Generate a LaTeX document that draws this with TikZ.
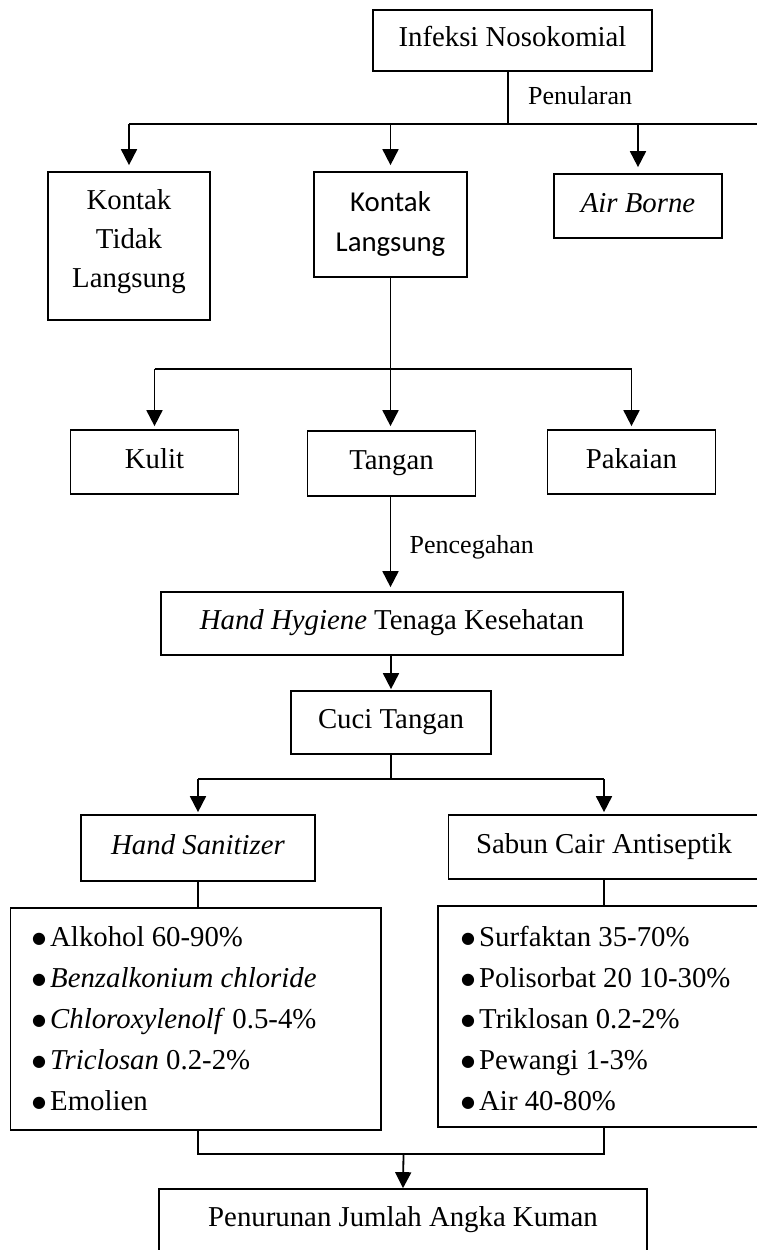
\documentclass[tikz,border=0pt]{standalone}
\usepackage{fontspec}
\setmainfont{Liberation Serif}
\newfontfamily\calibrifont{Carlito}
\newfontfamily\symbolfont{DejaVu Sans}
\usetikzlibrary{arrows.meta}
% list bullet in a fixed-width slot
\newcommand\dotmark{\makebox[18.7pt][l]{\hspace{0.5pt}\raisebox{3pt}{\symbolfont\fontsize{16}{16}\selectfont ●}}}

\begin{document}
\begin{tikzpicture}[x=1pt,y=-1pt,
  box/.style={draw, line width=1.7pt, inner sep=0pt, align=center,
    font=\fontsize{28.8}{39}\selectfont},
  one/.style={text height=19pt, text depth=6.5pt},
  txt/.style={inner sep=0pt, align=center, anchor=north},
  lbl/.style={inner sep=0pt, anchor=base west, font=\fontsize{26}{30}\selectfont},
  itemlist/.style={inner sep=0pt, anchor=north west, align=left,
    font=\fontsize{28.8}{41}\selectfont},
  conn/.style={line width=1.8pt},
  stem/.style={line width=1.2pt},
  arr/.style={line width=1.8pt, -{Triangle[length=16pt,width=16pt]}}
]
\useasboundingbox (0,0) rectangle (757,1250);
\clip (0,0) rectangle (757,1250);

% --- top: source and modes of transmission
\node[box, one, minimum width=279pt, minimum height=61pt] (inf) at (512.5,40.5) {Infeksi Nosokomial};
\node[box, minimum width=162pt, minimum height=148pt] (kt) at (129,246) {};
\node[txt, font=\fontsize{28.8}{39}\selectfont] (ktt) at (129,189.5) {Kontak\\Tidak\\Langsung};
\node[box, minimum width=153pt, minimum height=105pt] (kl) at (390.5,224.5) {};
\node[txt, font=\calibrifont\fontsize{28.8}{40}\selectfont] (klt) at (390.5,191) {Kontak\\Langsung};
\node[box, one, minimum width=168pt, minimum height=64pt] (ab) at (638,206) {\textit{Air Borne}};

\coordinate (j1) at (508,124);
\coordinate (jr) at (770,124);
\draw[stem] (j1 |- inf.south) -- (j1);
\draw[conn] (kt.north |- j1) -- (jr);
\node[lbl] (pen) at (528,104) {Penularan};
\draw[arr, shorten >=6pt] (kt.north |- j1) -- (kt.north);
\draw[arr, shorten >=6pt] (kl.north |- j1) -- (kl.north);
\draw[arr, shorten >=6pt] (ab.north |- j1) -- (ab.north);

% --- direct contact routes
\node[box, one, minimum width=168pt, minimum height=64pt] (ku) at (154.5,462) {Kulit};
\node[box, one, minimum width=168pt, minimum height=65pt] (tg) at (391.5,463.5) {Tangan};
\node[box, one, minimum width=168pt, minimum height=64pt] (pk) at (631.5,462) {Pakaian};

\coordinate (j2) at (390.5,369);
\draw[stem] (kl.south) -- (j2);
\draw[conn] (ku.north |- j2) -- (pk.north |- j2);
\draw[arr, shorten >=3pt] (ku.north |- j2) -- (ku.north);
\draw[arr, shorten >=4pt] (j2) -- (j2 |- tg.north);
\draw[arr, shorten >=3pt] (pk.north |- j2) -- (pk.north);

% --- prevention
\node[box, one, minimum width=462pt, minimum height=63pt] (hh) at (392,623.5) {\textit{Hand Hygiene} Tenaga Kesehatan};
\draw[arr, shorten >=4pt] (tg.south -| j2) -- (j2 |- hh.north);
\node[lbl] (pcg) at (409.5,553) {Pencegahan};

\node[box, one, minimum width=200pt, minimum height=63pt] (cu) at (391,722.5) {Cuci Tangan};
\draw[arr, shorten >=1pt] (hh.south -| cu.north) -- (cu.north);

% --- hand washing agents
\node[box, one, minimum width=234pt, minimum height=66pt] (hs) at (198,848) {\textit{Hand Sanitizer}};
\node[box, one, minimum width=311pt, minimum height=64pt] (sb) at (604,847) {Sabun Cair Antiseptik};

\coordinate (j3) at (391,779);
\draw[stem] (cu.south) -- (j3);
\draw[conn] (hs.north |- j3) -- (sb.north |- j3);
\draw[arr, shorten >=2pt] (hs.north |- j3) -- (hs.north);
\draw[arr, shorten >=2pt] (sb.north |- j3) -- (sb.north);

% --- composition lists
\node[box, minimum width=370.4pt, minimum height=222pt] (ll) at (195.8,1019) {};
\node[box, minimum width=332pt, minimum height=221pt] (rl) at (604,1016.5) {};
\node[itemlist] (llt) at (31.3,926.3) {%
  \dotmark Alkohol 60-90\%\\
  \dotmark\textit{Benzalkonium chloride}\\
  \dotmark\textit{Chloroxylenolf} 0.5-4\%\\
  \dotmark\textit{Triclosan} 0.2-2\%\\
  \dotmark Emolien};
\node[itemlist] (rlt) at (460.3,926.3) {%
  \dotmark Surfaktan 35-70\%\\
  \dotmark Polisorbat 20 10-30\%\\
  \dotmark Triklosan 0.2-2\%\\
  \dotmark Pewangi 1-3\%\\
  \dotmark Air 40-80\%};
\draw[stem] (hs.south) -- (hs.south |- ll.north);
\draw[stem] (sb.south) -- (sb.south |- rl.north);

% --- outcome
\node[box, one, minimum width=488pt, minimum height=63pt] (fin) at (403,1220.5) {Penurunan Jumlah Angka Kuman};
\coordinate (j4) at (403.5,1154);
\draw[conn] (hs.south |- ll.south) -- (hs.south |- j4) -- (sb.south |- j4) -- (sb.south |- rl.south);
\draw[arr] (j4) -- (fin.north);
\end{tikzpicture}
\end{document}
